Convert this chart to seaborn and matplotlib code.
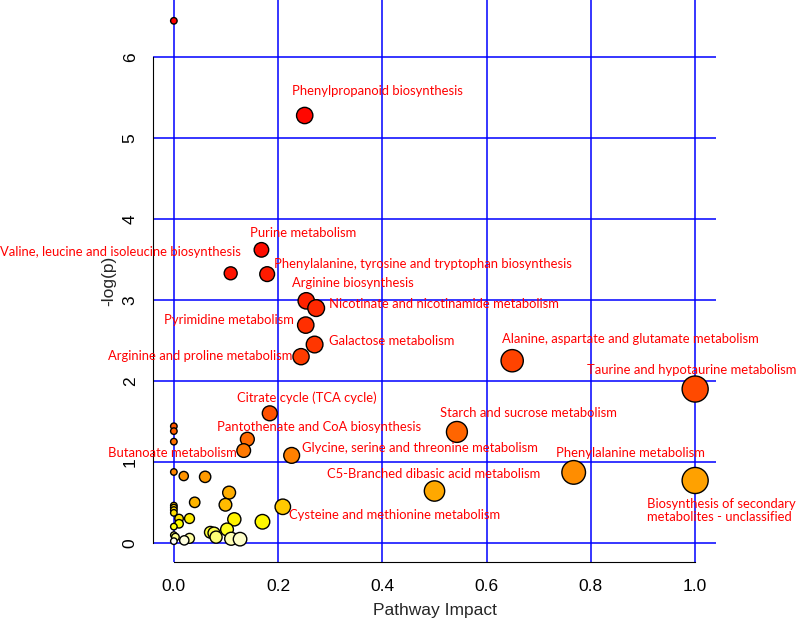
import colorsys
import numpy as np
import pandas as pd
import seaborn as sns
import matplotlib.pyplot as plt

# Pathway impact vs -log(p); labelled pathways first, then unlabelled ones
labels = [
    "Phenylpropanoid biosynthesis",
    "Purine metabolism",
    "Valine, leucine and isoleucine biosynthesis",
    "Phenylalanine, tyrosine and tryptophan biosynthesis",
    "Arginine biosynthesis",
    "Nicotinate and nicotinamide metabolism",
    "Pyrimidine metabolism",
    "Galactose metabolism",
    "Arginine and proline metabolism",
    "Alanine, aspartate and glutamate metabolism",
    "Taurine and hypotaurine metabolism",
    "Starch and sucrose metabolism",
    "Glycine, serine and threonine metabolism",
    "Phenylalanine metabolism",
    "C5-Branched dibasic acid metabolism",
    "Biosynthesis of secondary\nmetabolites - unclassified",
    "Cysteine and methionine metabolism",
    "Citrate cycle (TCA cycle)",
    "Pantothenate and CoA biosynthesis",
    "Butanoate metabolism",
]
label_impact = [0.251, 0.168, 0.109, 0.179, 0.254, 0.273, 0.253, 0.270, 0.244, 0.649,
                1.000, 0.543, 0.226, 0.767, 0.500, 1.000, 0.209, 0.184, 0.141, 0.134]
label_logp = [5.28, 3.62, 3.33, 3.32, 2.99, 2.90, 2.69, 2.45, 2.30, 2.25,
              1.90, 1.37, 1.08, 0.87, 0.64, 0.77, 0.445, 1.60, 1.28, 1.14]

other_impact = [0.0, 0.0, 0.0, 0.0, 0.0, 0.019, 0.060, 0.106, 0.040, 0.099,
                0.0, 0.0, 0.0, 0.0, 0.010, 0.030, 0.116, 0.170, 0.010, 0.0,
                0.102, 0.070, 0.077, 0.081, 0.110, 0.127, 0.0, 0.003, 0.0, 0.020, 0.030]
other_logp = [6.45, 1.44, 1.38, 1.25, 0.875, 0.825, 0.815, 0.62, 0.50, 0.47,
              0.46, 0.435, 0.405, 0.37, 0.30, 0.30, 0.29, 0.26, 0.235, 0.20,
              0.165, 0.13, 0.12, 0.07, 0.05, 0.045, 0.095, 0.07, 0.02, 0.03, 0.055]

# label placement: (ha, dx px, dy px) relative to the circle centre
label_pos = [
    ("left", -13, 25), ("left", -11, 17), ("left", -231, 21), ("left", 7, 10),
    ("left", -14, 18), ("left", 13, 4), ("right", -12, 5), ("left", 14, 4),
    ("right", -9, 1), ("left", -10, 22), ("right", 101, 19), ("left", -17, 19),
    ("left", 10, 7), ("left", -18, 19), ("center", -1, 17), ("right", 101, -30),
    ("left", 6, -8), ("left", -33, 16), ("left", -30, 12), ("right", -7, -2),
]


def heat_colors(n):
    # same as R's heat.colors()
    j = n // 4
    i = n - j
    cols = [colorsys.hsv_to_rgb(h, 1, 1) for h in np.linspace(0, 1 / 6, i)]
    cols += [colorsys.hsv_to_rgb(1 / 6, s, 1)
             for s in np.linspace(1 - 1 / (2 * j), 1 / (2 * j), j)]
    return cols


df = pd.DataFrame({
    "impact": label_impact + other_impact,
    "logp": label_logp + other_logp,
})
df["rank"] = df["logp"].rank(ascending=False, method="first").astype(int)
cols = heat_colors(len(df))
palette = {r: cols[r - 1] for r in df["rank"]}

# axis ranges like R (4% padding)
xr = df["impact"].max() - df["impact"].min()
yr = df["logp"].max() - df["logp"].min()
xlim = (df["impact"].min() - 0.04 * xr, df["impact"].max() + 0.04 * xr)
ylim = (df["logp"].min() - 0.04 * yr, df["logp"].max() + 0.04 * yr)

sns.set_theme(style="white")
plt.rcParams["font.family"] = ["Liberation Sans", "DejaVu Sans"]

W, H, DPI = 7.97, 6.21, 100
fig = plt.figure(figsize=(W, H), dpi=DPI)
left, right, bottom, top = 153 / 797, 716 / 797, 59 / 621, 1.0
ax = fig.add_axes([left, bottom, right - left, top - bottom])

# circle radius grows with sqrt(impact), as in MetaboAnalyst
sq = np.sqrt(df["impact"])
maxR = (sq.max() - sq.min()) / 40
minR = (sq.max() - sq.min()) / 160
radius = minR + (maxR - minR) * (sq - sq.min()) / (sq.max() - sq.min())
pts_per_unit = (right - left) * W * 72 / (xlim[1] - xlim[0])
df["area"] = (2 * radius * pts_per_unit) ** 2
amin, amax = df["area"].min(), df["area"].max()

df = df.sort_values("rank")
sns.scatterplot(data=df, x="impact", y="logp", hue="rank", palette=palette,
                size="area", sizes=(amin, amax), size_norm=(amin, amax),
                edgecolor="black", linewidth=1.0, legend=False, ax=ax, zorder=3)

ax.set_xlim(xlim)
ax.set_ylim(ylim)
ax.set_xticks([0.0, 0.2, 0.4, 0.6, 0.8, 1.0])
ax.set_yticks([0, 1, 2, 3, 4, 5, 6])
ax.set_xticklabels(["0.0", "0.2", "0.4", "0.6", "0.8", "1.0"])
ax.grid(True, color="blue", linewidth=1.1)
ax.set_axisbelow(True)

for s in ["top", "right"]:
    ax.spines[s].set_visible(False)
ax.spines["left"].set_bounds(0, 6)
ax.spines["bottom"].set_bounds(0, 1)
for s in ["left", "bottom"]:
    ax.spines[s].set_color("black")
    ax.spines[s].set_linewidth(0.8)

ax.tick_params(axis="both", direction="out", length=7, width=0.8, color="black",
               labelsize=12.5, labelcolor="black")
ax.tick_params(axis="y", labelrotation=90, pad=4)
ax.tick_params(axis="x", pad=5)
for t in ax.get_yticklabels():
    t.set_va("center")

ax.set_xlabel("Pathway Impact", fontsize=12.5, labelpad=7)
ax.set_ylabel("-log(p)", fontsize=12.5, labelpad=5)

for name, xi, yi, (ha, dx, dy) in zip(labels, label_impact, label_logp, label_pos):
    ax.annotate(name, xy=(xi, yi), xytext=(dx, dy), textcoords="offset pixels",
                ha=ha, va="center", color="red", fontsize=9.4,
                family=["Lato", "DejaVu Sans"], zorder=4, annotation_clip=False,
                multialignment="left", linespacing=1.15)

fig.savefig("out.png", dpi=DPI)
plt.close(fig)
